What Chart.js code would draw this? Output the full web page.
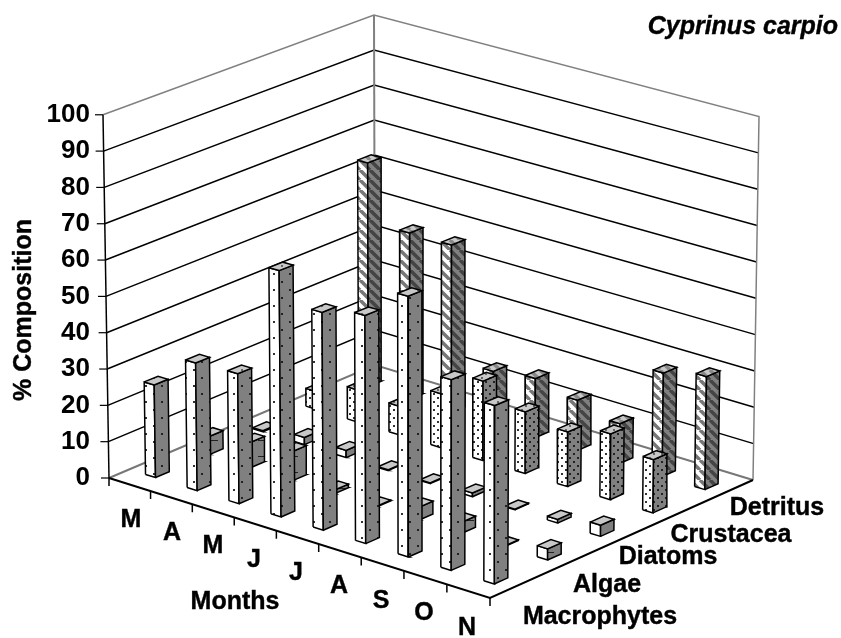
<!DOCTYPE html>
<html><head><meta charset="utf-8">
<style>html,body{margin:0;padding:0;background:#fff}canvas{display:block}</style>
<script src="https://cdn.jsdelivr.net/npm/chart.js@4"></script></head>
<body><canvas id="c" width="841" height="638"></canvas>
<script>
const months=["M","A","M","J","J","A","S","O","N"];
const seriesNames=["Macrophytes","Algae","Diatoms","Crustacea","Detritus"];
const valueTicks=[0,10,20,30,40,50,60,70,80,90,100];
const macrophytes=[25.5,35,35.5,67,59,61.5,70,51,47.5];
const algae=[5,7,8,1,0.2,3.5,3,0.2,3];
const diatoms=[0.3,2,2,0.2,0.2,1,0.2,1,3];
const crustacea=[5,9,8,15,22,17,15,18,14.5];
const detritus=[63.5,47,47,15,16.5,14,11,28.5,31];
const allSeries=[macrophytes,algae,diatoms,crustacea,detritus];

/* projection of (month,series,value) into the page: floor corners, wall height */
const L=[109,478],F=[490,598],R=[753,480],B=[375,365];
const H=(()=>{const [x0,y0]=L,[x1,y1]=F,[x2,y2]=R,[x3,y3]=B;
 const dx1=x1-x2,dx2=x3-x2,sx=x0-x1+x2-x3,dy1=y1-y2,dy2=y3-y2,sy=y0-y1+y2-y3;
 const d=dx1*dy2-dx2*dy1,g=(sx*dy2-dx2*sy)/d,h=(dx1*sy-sx*dy1)/d;
 return {a:x1-x0+g*x1,b:x3-x0+h*x3,c:x0,d:y1-y0+g*y1,e:y3-y0+h*y3,f:y0,g,h};})();
function proj(u,w,v){const s=u/months.length,t=w/seriesNames.length;
 const q=H.g*s+H.h*t+1,fx=(H.a*s+H.b*t+H.c)/q,fy=(H.d*s+H.e*t+H.f)/q;
 const ht=(350+(fy-365)*0.117)*v/100;
 return {px:fx+(fx-431)*ht/19500,py:fy-ht};}
const Y0=478,YK=3.63;
const toData=p=>({x:p.px,y:(Y0-p.py)/YK});
const P=(u,w,v)=>toData(proj(u,w,v));

function tile(size,bg,draw){const c=document.createElement('canvas');c.width=c.height=size;const g=c.getContext('2d');g.fillStyle=bg;g.fillRect(0,0,size,size);draw(g,size);return g.createPattern(c,'repeat');}
const dots=(bg,size,col)=>tile(size,bg,(g,s)=>{g.fillStyle=col;g.fillRect(1,1,2,2);g.fillRect(1+s/2,1+s/2,2,2);});
const dash=(bg)=>tile(16,bg,(g)=>{g.fillStyle='#222';g.fillRect(2,8,8,1);});
const hatch=(bg,col)=>tile(10,bg,(g,s)=>{g.strokeStyle=col;g.lineWidth=3.5;for(let i=-s;i<=s*2;i+=s){g.beginPath();g.moveTo(i,0);g.lineTo(i+s,s);g.stroke();}});
const GR='#808080',LG='#c8c8c8';
const looks=[
 {l:dots('#fff',16,'#333'),r:dots(GR,16,'#222'),t:dots(LG,16,'#666')},
 {l:'#fff',r:dash(GR),t:LG},
 {l:'#fff',r:GR,t:LG},
 {l:dots('#fff',8,'#333'),r:dots(GR,8,'#222'),t:dots(LG,8,'#666')},
 {l:hatch('#fff','#777'),r:hatch(GR,'#444'),t:hatch(LG,'#888')}
];
const poly=(pts,bg,bw=1.5)=>({data:[...pts,pts[0]],showLine:true,fill:'shape',backgroundColor:bg,borderColor:'#000',borderWidth:bw,pointRadius:0,tension:0,clip:false});
const line=(pts,col,bw,dashArr)=>({data:pts,showLine:true,fill:false,borderColor:col,borderWidth:bw,borderDash:dashArr||[],pointRadius:0,tension:0,clip:false});

const painter=[];
const nM=months.length,nS=seriesNames.length;
// walls
painter.push(line([P(0,0,0),P(0,nS,0),P(nM,nS,0)],'#777',2));
valueTicks.slice(1,-1).forEach(v=>painter.push(line([P(0,0,v),P(0,nS,v),P(nM,nS,v)],'#000',1.5)));
painter.push(line([P(0,0,100),P(0,nS,100),P(nM,nS,100),P(nM,nS,0)],GR,1.5));
painter.push(line([P(0,nS,0),P(0,nS,100)],GR,2));
// bars, back to front
for(let w=nS-1;w>=0;w--)for(let m=0;m<nM;m++){
 const v=allSeries[w][m],u0=m+.39,u1=m+.63,w0=w+.375,w1=w+.63,k=looks[w];
 painter.push(poly([P(u0,w0,0),P(u1,w0,0),P(u1,w0,v),P(u0,w0,v)],k.l));
 painter.push(poly([P(u1,w0,0),P(u1,w1,0),P(u1,w1,v),P(u1,w0,v)],k.r));
 painter.push(poly([P(u0,w0,v),P(u1,w0,v),P(u1,w1,v),P(u0,w1,v)],k.t));
}
// axis frame
painter.push(line([P(0,0,0),P(0,0,100)],'#000',1.5));
painter.push(line([P(0,0,0),P(nM,0,0),P(nM,nS,0)],'#000',2));
for(let m=0;m<=nM;m++){const a=proj(m,0,0);painter.push(line([toData(a),toData({px:a.px,py:a.py+8})],'#000',1.5));}
valueTicks.forEach(v=>{const a=proj(0,0,v);painter.push(line([toData(a),toData({px:a.px-8,py:a.py})],'#000',1.2));});

const FONT='bold 25px "Liberation Sans", Arial, sans-serif';
const texts=[
 {t:"Cyprinus carpio",x:838,y:27,al:'right',f:'italic bold 25px "Liberation Sans", Arial, sans-serif'},
 {t:"% Composition",x:24,y:310,rot:-Math.PI/2},
 {t:"Months",x:235,y:602},
 {t:months[0],x:131,y:520},{t:months[1],x:172,y:533},{t:months[2],x:213,y:546},{t:months[3],x:254,y:560},{t:months[4],x:296,y:573},{t:months[5],x:339,y:586},{t:months[6],x:381,y:601},{t:months[7],x:424,y:613},{t:months[8],x:467,y:628},
 {t:seriesNames[4],x:777,y:508},{t:seriesNames[3],x:731,y:535},{t:seriesNames[2],x:668,y:557},{t:seriesNames[1],x:607,y:585},{t:seriesNames[0],x:600,y:617}
];
const textPlugin={id:'textLabels',afterDatasetsDraw(ch){const g=ch.ctx;g.save();g.fillStyle='#000';g.strokeStyle='#000';g.lineWidth=0.4;g.textBaseline='middle';
 texts.forEach(o=>{g.save();g.font=o.f||FONT;g.textAlign=o.al||'center';g.translate(o.x,o.y);if(o.rot)g.rotate(o.rot);g.fillText(o.t,0,0);g.strokeText(o.t,0,0);g.restore();});g.restore();}};

new Chart(document.getElementById('c'),{type:'scatter',
 data:{datasets:painter.slice().reverse()},
 options:{responsive:false,animation:false,layout:{padding:0},events:[],
  plugins:{legend:{display:false},tooltip:{enabled:false},filler:{drawTime:'beforeDatasetDraw',propagate:false}},
  scales:{
   x:{type:'linear',min:0,max:841,display:false},
   y:{type:'linear',position:{x:90},min:(Y0-638)/YK,max:Y0/YK,
      afterBuildTicks(s){s.ticks=valueTicks.map(value=>({value}));},
      afterFit(s){s.paddingTop=0;s.paddingBottom=0;s.paddingLeft=0;s.paddingRight=0;},
      grid:{display:false},border:{display:false},
      ticks:{color:'#000',font:{family:'"Liberation Sans", Arial, sans-serif',size:26,weight:'bold'},padding:0,autoSkip:false,maxRotation:0}}
  }},
 plugins:[textPlugin]});
</script></body></html>
